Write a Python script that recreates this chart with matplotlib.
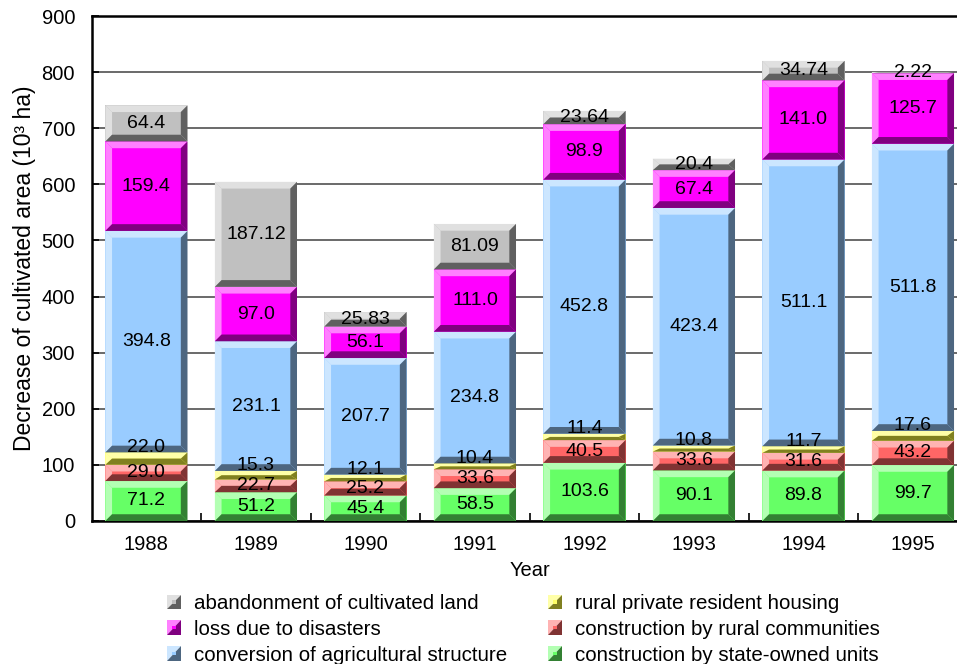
import numpy as np
import matplotlib
matplotlib.use("Agg")
import matplotlib.pyplot as plt
from matplotlib.patches import Polygon, Rectangle
from matplotlib.legend_handler import HandlerBase

plt.rcParams['font.family'] = ['Liberation Sans', 'DejaVu Sans']

years = ['1988', '1989', '1990', '1991', '1992', '1993', '1994', '1995']

# stacked from bottom to top
state_owned = [71.2, 51.2, 45.4, 58.5, 103.6, 90.1, 89.8, 99.7]
rural_comm = [29.0, 22.7, 25.2, 33.6, 40.5, 33.6, 31.6, 43.2]
private_housing = [22.0, 15.3, 12.1, 10.4, 11.4, 10.8, 11.7, 17.6]
conversion = [394.8, 231.1, 207.7, 234.8, 452.8, 423.4, 511.1, 511.8]
disasters = [159.4, 97.0, 56.1, 111.0, 98.9, 67.4, 141.0, 125.7]
abandonment = [64.4, 187.12, 25.83, 81.09, 23.64, 20.4, 34.74, 2.22]

labels_state = ['71.2', '51.2', '45.4', '58.5', '103.6', '90.1', '89.8', '99.7']
labels_comm = ['29.0', '22.7', '25.2', '33.6', '40.5', '33.6', '31.6', '43.2']
labels_private = ['22.0', '15.3', '12.1', '10.4', '11.4', '10.8', '11.7', '17.6']
labels_conv = ['394.8', '231.1', '207.7', '234.8', '452.8', '423.4', '511.1', '511.8']
labels_dis = ['159.4', '97.0', '56.1', '111.0', '98.9', '67.4', '141.0', '125.7']
labels_aband = ['64.4', '187.12', '25.83', '81.09', '23.64', '20.4', '34.74', '2.22']

# (name, values, labels, light, face, dark)
series = [
    ('construction by state-owned units', state_owned, labels_state, '#B3FFB3', '#66FF66', '#338033'),
    ('construction by rural communities', rural_comm, labels_comm, '#FFB3B3', '#FF6666', '#803333'),
    ('rural private resident housing', private_housing, labels_private, '#FFFFA8', '#FFFF66', '#808020'),
    ('conversion of agricultural structure', conversion, labels_conv, '#CCE6FF', '#99CCFF', '#4D6680'),
    ('loss due to disasters', disasters, labels_dis, '#FF80FF', '#FF00FF', '#800080'),
    ('abandonment of cultivated land', abandonment, labels_aband, '#E0E0E0', '#C0C0C0', '#606060'),
]


class Swatch:
    def __init__(self, light, face, dark):
        self.light, self.face, self.dark = light, face, dark


class BevelHandler(HandlerBase):
    def create_artists(self, legend, h, xd, yd, width, height, fontsize, trans):
        s = min(width, height)
        x0 = -xd + (width - s) / 2
        y0 = -yd + (height - s) / 2
        up = Polygon([(x0, y0), (x0, y0 + s), (x0 + s, y0 + s)], closed=True,
                     facecolor=h.light, edgecolor='none', transform=trans)
        lo = Polygon([(x0, y0), (x0 + s, y0), (x0 + s, y0 + s)], closed=True,
                     facecolor=h.dark, edgecolor='none', transform=trans)
        c = s * 0.25
        mid = Rectangle((x0 + s / 2 - c / 2, y0 + s / 2 - c / 2), c, c,
                        facecolor=h.face, edgecolor='none', transform=trans)
        return [up, lo, mid]


fig = plt.figure(figsize=(9.57, 6.64), dpi=100)
ax = fig.add_axes([0.0958, 0.2154, 0.9154, 0.7605])

x = np.arange(len(years))
width = 0.75
ax.set_xlim(-0.5, len(years) - 0.5)
ax.set_ylim(0, 900)

# bevel size in data units (about 6.7 px)
bx = 0.061
by_full = 12.0

bottom = np.zeros(len(years))
for name, vals, labs, light, face, dark in series:
    vals = np.array(vals)
    bars = ax.bar(x, vals, width, bottom=bottom, color=face, edgecolor='none', zorder=3)
    for i, b in enumerate(bars):
        x0, x1 = b.get_x(), b.get_x() + b.get_width()
        y0, y1 = bottom[i], bottom[i] + vals[i]
        by = min(by_full, (y1 - y0) / 2)
        polys = [
            ([(x0, y1), (x1, y1), (x1 - bx, y1 - by), (x0 + bx, y1 - by)], light),
            ([(x0, y0), (x0, y1), (x0 + bx, y1 - by), (x0 + bx, y0 + by)], light),
            ([(x1, y1), (x1, y0), (x1 - bx, y0 + by), (x1 - bx, y1 - by)], dark),
            ([(x0, y0), (x1, y0), (x1 - bx, y0 + by), (x0 + bx, y0 + by)], dark),
        ]
        for pts, col in polys:
            ax.add_patch(Polygon(pts, closed=True, facecolor=col, edgecolor='none', zorder=4))
        if name == 'rural private resident housing':
            ty = y1 + 9
        else:
            ty = (y0 + y1) / 2
        ax.text(x[i], ty, labs[i], ha='center', va='center', fontsize=14, zorder=6)
    bottom = bottom + vals

ax.set_yticks(np.arange(0, 901, 100))
ax.yaxis.grid(True, color='#505050', linewidth=1.2, zorder=0)
ax.set_axisbelow(True)
ax.set_xticks(x)
ax.set_xticklabels(years)
ax.set_xticks(np.arange(0.5, len(years) - 0.5, 1), minor=True)
ax.tick_params(axis='x', which='major', length=0, labelsize=14.5, pad=10)
ax.tick_params(axis='x', which='minor', direction='in', length=6, width=1.2)
ax.tick_params(axis='y', direction='in', length=5, width=1.2, labelsize=14.5, pad=12)

for sp in ['left', 'bottom', 'top']:
    ax.spines[sp].set_linewidth(1.8)
    ax.spines[sp].set_color('black')
ax.spines['right'].set_visible(False)

ax.set_xlabel('Year', fontsize=14.5, labelpad=5)
ax.set_ylabel('Decrease of cultivated area (10³ ha)', fontsize=16.5, labelpad=4)

order = [5, 4, 3, 2, 1, 0]
handles = [Swatch(series[k][3], series[k][4], series[k][5]) for k in order]
names = [series[k][0] for k in order]
fig.legend(handles, names, handler_map={Swatch: BevelHandler()},
           loc='upper left', bbox_to_anchor=(167 / 957, 1 - 594 / 664),
           ncol=2, frameon=False, fontsize=14.8, handlelength=0.7, handleheight=0.7,
           handletextpad=0.6, columnspacing=2.0, labelspacing=0.33, borderpad=0,
           borderaxespad=0)

fig.savefig('out.png', dpi=100)
